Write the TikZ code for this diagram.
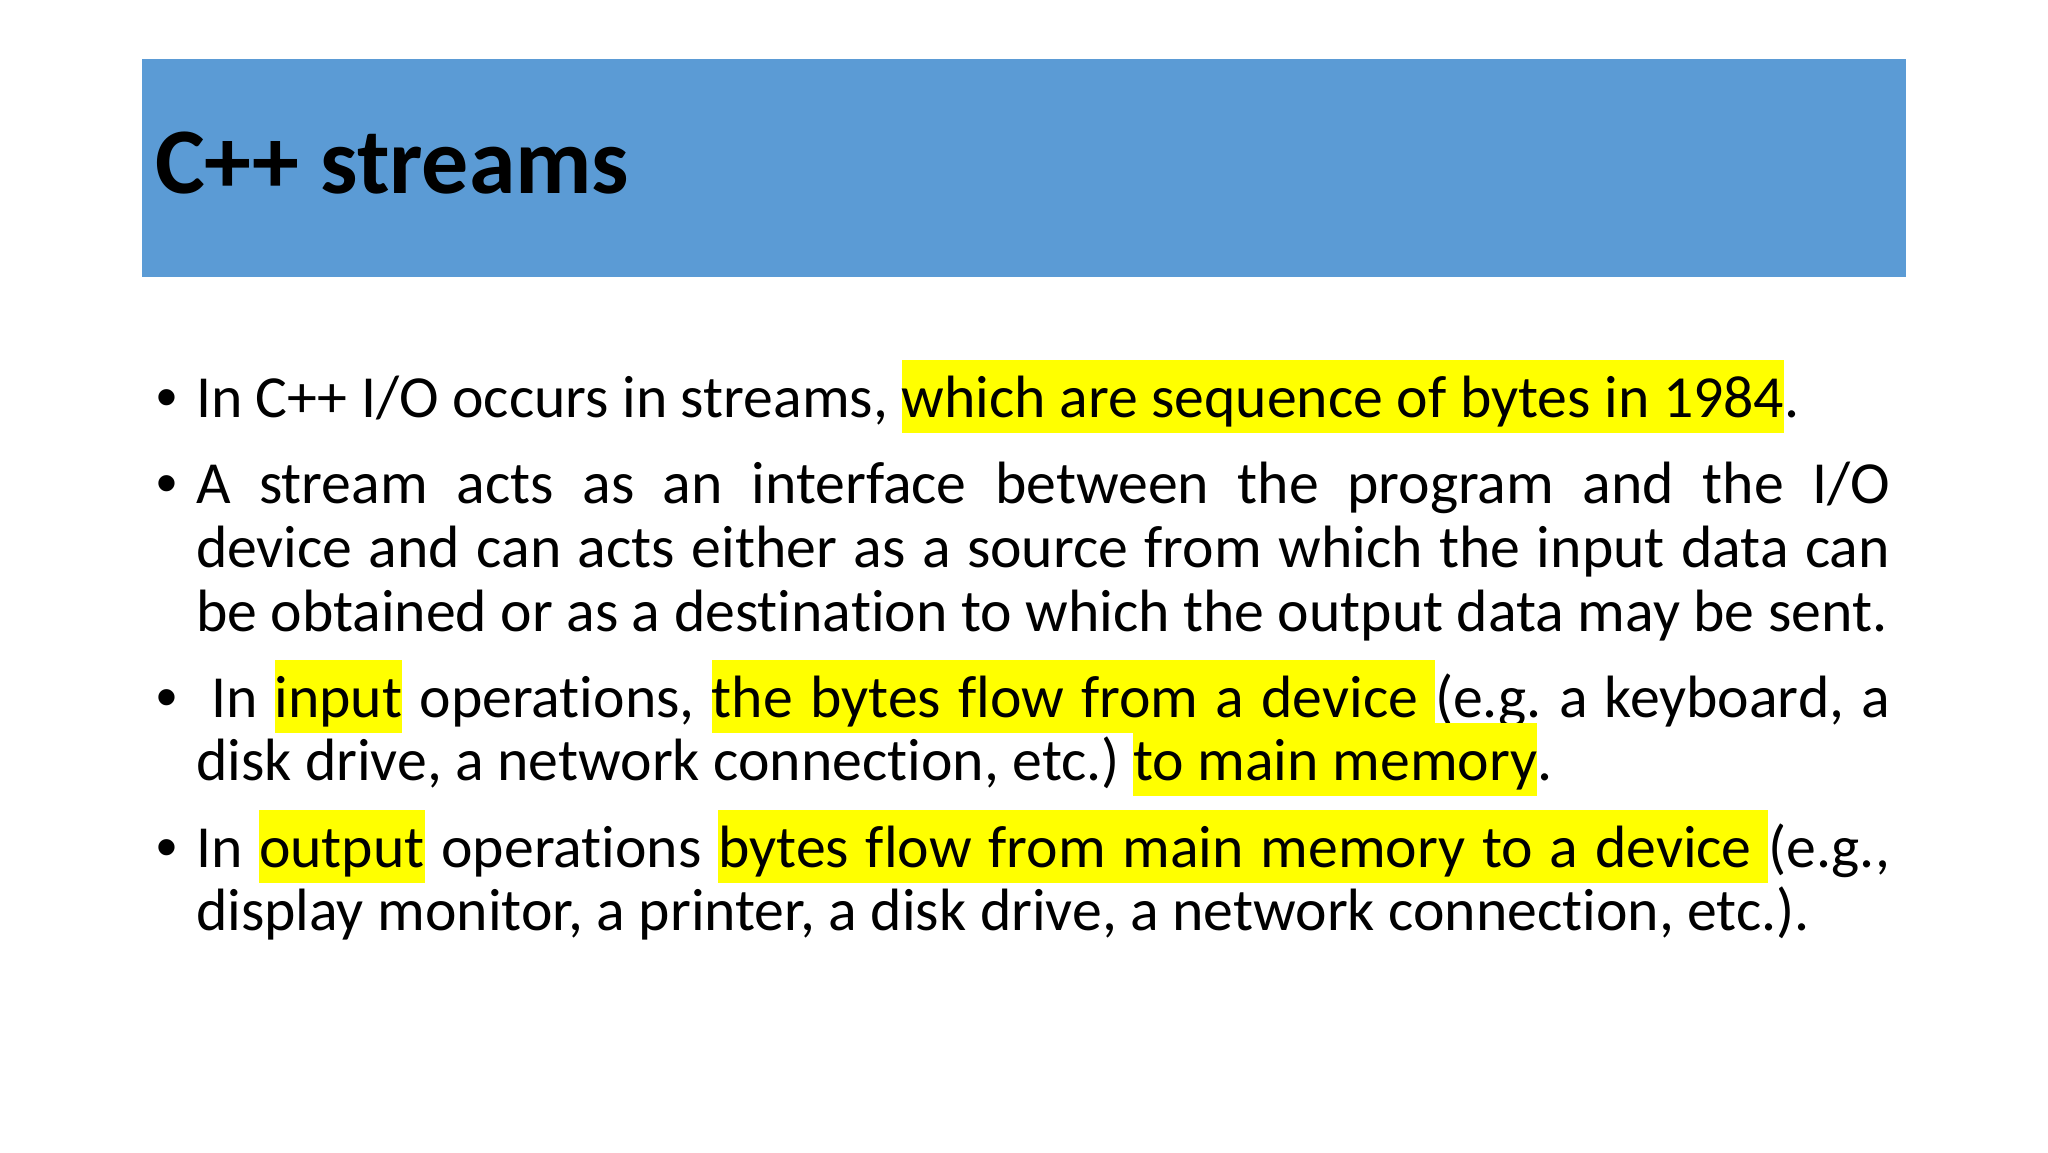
\documentclass[tikz,border=0pt]{standalone}
\usepackage{fontspec}
\setmainfont{Carlito}[Ligatures=NoCommon]
\newfontfamily\bulletfont{Liberation Sans}
\definecolor{titleblue}{HTML}{5B9BD5}
\definecolor{hly}{HTML}{FFFF00}
\newsavebox\hlbx
% highlighted word (no spaces)
\newcommand\hw[1]{\sbox\hlbx{#1}\rlap{\textcolor{hly}{\rule[-16pt]{\wd\hlbx}{73pt}}}\usebox\hlbx}
% highlighted, stretchable interword space
\newcommand\hs{\textcolor{hly}{\leaders\vrule height 57pt depth 16pt\hskip\fontdimen2\font plus\fontdimen3\font minus\fontdimen4\font}}
\newcommand\bodysz{\fontsize{59.73pt}{73pt}\selectfont}
\newcommand\jline[1]{\makebox[1694pt][s]{#1}}
\frenchspacing
\begin{document}
\begin{tikzpicture}[x=1pt,y=-1pt,
  txt/.style={anchor=base west, inner sep=0pt, outer sep=0pt, font=\bodysz},
  bul/.style={anchor=base west, inner sep=0pt, outer sep=0pt, font=\bulletfont\bodysz},
  titletxt/.style={anchor=base west, inner sep=0pt, outer sep=0pt, font=\fontsize{93.9pt}{110pt}\selectfont\bfseries}]
\useasboundingbox (0,0) rectangle (2048,1152);
\fill[white] (0,0) rectangle (2048,1152);
\fill[titleblue] (142,59) rectangle (1906,277);
\node[titletxt] (title) at (155,193) {C++ streams};
% bullets
\node[bul] (k1) at (156,417) {•};
\node[bul] (k2) at (156,503) {•};
\node[bul] (k3) at (156,717) {•};
\node[bul] (k4) at (156,867) {•};
% bullet 1
\node[txt] (a1) at (196,417) {In C++ I/O occurs in streams, \hw{which}\hs\hw{are}\hs\hw{sequence}\hs\hw{of}\hs\hw{bytes}\hs\hw{in}\hs\hw{1984}.};
% bullet 2
\node[txt] (b1) at (196,503) {\jline{A stream acts as an interface between the program and the I/O}};
\node[txt] (b2) at (196,567) {\jline{device and can acts either as a source from which the input data can}};
\node[txt] (b3) at (196,631) {be obtained or as a destination to which the output data may be sent.};
% bullet 3
\node[txt] (c1) at (196,717) {\jline{\hspace*{15pt}In \hw{input} operations, \hw{the}\hs\hw{bytes}\hs\hw{flow}\hs\hw{from}\hs\hw{a}\hs\hw{device}\hs(e.g. a keyboard, a}};
\node[txt] (c2) at (196,780) {disk drive, a network connection, etc.) \hw{to}\hs\hw{main}\hs\hw{memory}.};
% bullet 4
\node[txt] (d1) at (196,867) {\jline{In \hw{output} operations \hw{bytes}\hs\hw{flow}\hs\hw{from}\hs\hw{main}\hs\hw{memory}\hs\hw{to}\hs\hw{a}\hs\hw{device}\hs(e.g.,}};
\node[txt] (d2) at (196,930) {display monitor, a printer, a disk drive, a network connection, etc.).};
\end{tikzpicture}
\end{document}
